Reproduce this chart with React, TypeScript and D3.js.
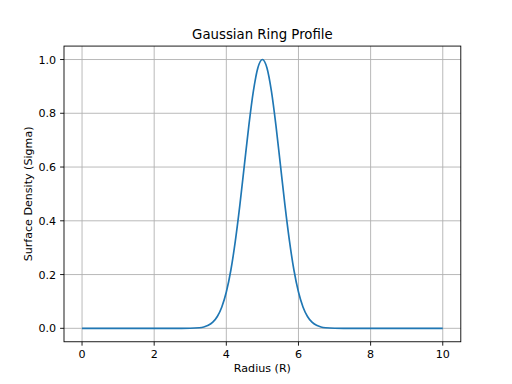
import React from "react";
import * as d3 from "d3";

const radius = [0, 0.5, 1, 1.5, 2, 2.5, 2.75, 3, 3.25, 3.375, 3.5, 3.625, 3.75, 3.875, 4, 4.125, 4.25, 4.375, 4.5, 4.625, 4.75, 4.875, 5, 5.125, 5.25, 5.375, 5.5, 5.625, 5.75, 5.875, 6, 6.125, 6.25, 6.375, 6.5, 6.625, 6.75, 7, 7.25, 7.5, 8, 8.5, 9, 9.5, 10];
const density = [0, 0, 0, 0, 0, 0, 0.0001, 0.0003, 0.0022, 0.0051, 0.011, 0.0228, 0.044, 0.0796, 0.135, 0.216, 0.325, 0.458, 0.607, 0.755, 0.882, 0.969, 1.0, 0.969, 0.882, 0.755, 0.607, 0.458, 0.325, 0.216, 0.135, 0.0796, 0.044, 0.0228, 0.011, 0.0051, 0.0022, 0.0003, 0.0001, 0, 0, 0, 0, 0, 0];
const xTicks = [0, 2, 4, 6, 8, 10];
const yTicks = [0, 0.2, 0.4, 0.6, 0.8, 1.0];

export default function App() {
  const W = 512, H = 384;
  const left = 64, right = 460.8, top = 46.08, bottom = 341.76;
  const x = d3.scaleLinear().domain([-0.5, 10.5]).range([left, right]);
  const y = d3.scaleLinear().domain([-0.05, 1.05]).range([bottom, top]);
  const pts = radius.map((r, i) => [r, density[i]] as [number, number]);
  const line = d3.line<[number, number]>().x(d => x(d[0])).y(d => y(d[1])).curve(d3.curveMonotoneX);
  const font = "DejaVu Sans, sans-serif";
  return (
    <svg width={W} height={H} style={{ position: "absolute", left: 0, top: 0, background: "#fff" }}>
      <rect x={0} y={0} width={W} height={H} fill="#fff" />
      <g stroke="#b0b0b0" strokeWidth={0.89}>
        {xTicks.map(t => <line key={"gx" + t} x1={x(t)} x2={x(t)} y1={top} y2={bottom} />)}
        {yTicks.map(t => <line key={"gy" + t} x1={left} x2={right} y1={y(t)} y2={y(t)} />)}
      </g>
      <path d={line(pts) || ""} fill="none" stroke="#1f77b4" strokeWidth={1.67} />
      <rect x={left} y={top} width={right - left} height={bottom - top} fill="none" stroke="#000" strokeWidth={0.89} />
      <g stroke="#000" strokeWidth={0.89}>
        {xTicks.map(t => <line key={"tx" + t} x1={x(t)} x2={x(t)} y1={bottom} y2={bottom + 3.9} />)}
        {yTicks.map(t => <line key={"ty" + t} x1={left} x2={left - 3.9} y1={y(t)} y2={y(t)} />)}
      </g>
      <g fontFamily={font} fontSize={11.1} fill="#000">
        {xTicks.map(t => <text key={"lx" + t} x={x(t)} y={bottom + 16.5} textAnchor="middle">{t}</text>)}
        {yTicks.map(t => <text key={"ly" + t} x={left - 7.8} y={y(t)} dy="0.36em" textAnchor="end">{t.toFixed(1)}</text>)}
        <text x={(left + right) / 2} y={372} textAnchor="middle">Radius (R)</text>
        <text transform={`translate(32,${(top + bottom) / 2}) rotate(-90)`} textAnchor="middle">Surface Density (Sigma)</text>
      </g>
      <text x={(left + right) / 2} y={top - 7} textAnchor="middle" fontFamily={font} fontSize={13.3}>Gaussian Ring Profile</text>
    </svg>
  );
}
